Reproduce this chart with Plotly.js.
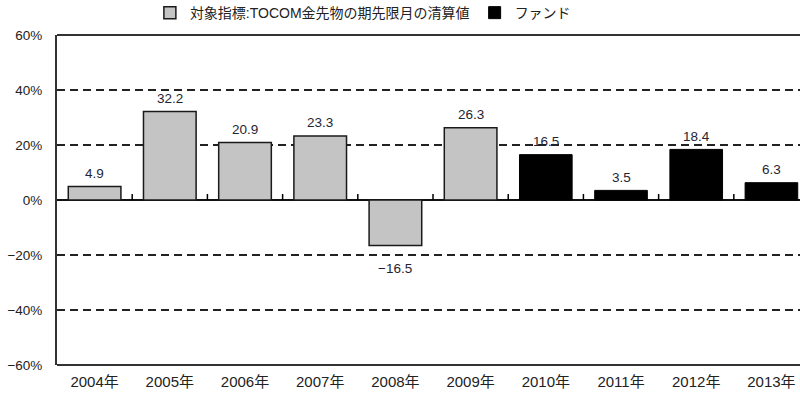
<!DOCTYPE html>
<html>
<head>
<meta charset="utf-8">
<script src="https://cdn.plot.ly/plotly-3.0.1.min.js"></script>
<style>html,body{margin:0;padding:0;background:#fff;}#chart{width:800px;height:405px;}</style>
</head>
<body>
<div id="chart"></div>
<script>
const years = ["2004年","2005年","2006年","2007年","2008年","2009年","2010年","2011年","2012年","2013年"];
const indexYears = ["2004年","2005年","2006年","2007年","2008年","2009年"];
const indexValues = [4.9, 32.2, 20.9, 23.3, -16.5, 26.3];
const fundYears = ["2010年","2011年","2012年","2013年"];
const fundValues = [16.5, 3.5, 18.4, 6.3];
const indexName = "対象指標:TOCOM金先物の期先限月の清算値";
const fundName = "ファンド";
const yTicks = [-60, -40, -20, 0, 20, 40, 60];

const FONT = "Arial, 'Liberation Sans', 'Noto Sans CJK JP', sans-serif";
const fmt = v => (v < 0 ? "\u2212" : "") + Math.abs(v).toFixed(1);

const traces = [
  {
    type: "bar", name: indexName, x: indexYears, y: indexValues,
    marker: {color: "#c4c4c4", line: {color: "#1a1a1a", width: 1.5}},
    hoverinfo: "skip"
  },
  {
    type: "bar", name: fundName, x: fundYears, y: fundValues,
    marker: {color: "#000000", line: {color: "#000000", width: 1}},
    hoverinfo: "skip"
  }
];

const allX = indexYears.concat(fundYears);
const allY = indexValues.concat(fundValues);
const annotations = allX.map((x, i) => ({
  x: x, y: allY[i], xref: "x", yref: "y",
  text: fmt(allY[i]), showarrow: false,
  yanchor: "middle", yshift: allY[i] < 0 ? -23 : 13,
  font: {family: FONT, size: 13.5, color: "#1f2533"}
}));

const xRange = [-0.5, 9.38];
const yRange = [yTicks[0], yTicks[yTicks.length - 1]];
const plotH = 405 - 35 - 40;

// small tick marks on the zero line at the boundaries between categories
const zeroFrac = (0 - yRange[0]) / (yRange[1] - yRange[0]);
const tickShapes = years.slice(1).map((_, i) => {
  const fx = (i + 0.5 - xRange[0]) / (xRange[1] - xRange[0]);
  return {
    type: "line", xref: "paper", yref: "paper", layer: "above",
    x0: fx, x1: fx, y0: zeroFrac, y1: zeroFrac + 6 / plotH,
    line: {color: "#000", width: 1.5}
  };
});

const layout = {
  width: 800, height: 405,
  margin: {l: 57, r: 0, t: 35, b: 40, autoexpand: false},
  paper_bgcolor: "#ffffff", plot_bgcolor: "#ffffff",
  font: {family: FONT, size: 13.5, color: "#222"},
  barmode: "overlay", bargap: 0.3,
  showlegend: true,
  legend: {orientation: "h", x: 0.125, xanchor: "left", y: 1.115, yanchor: "top",
           bgcolor: "rgba(0,0,0,0)",
           font: {family: FONT, size: 14, color: "#222"}, itemwidth: 30, traceorder: "normal"},
  xaxis: {
    type: "category", categoryorder: "array", categoryarray: years,
    range: xRange,
    showline: false, ticks: "", showgrid: false, zeroline: false,
    ticklabelstandoff: 6,
    tickfont: {family: FONT, size: 15, color: "#222"}
  },
  yaxis: {
    range: yRange, tickvals: yTicks, ticktext: yTicks.map(v => (v < 0 ? "\u2212" + Math.abs(v) : v) + "%"),
    showline: true, linecolor: "#333", linewidth: 2,
    ticks: "", showgrid: true, gridcolor: "#222", gridwidth: 2, griddash: "8px,5px",
    zeroline: true, zerolinecolor: "#111", zerolinewidth: 2,
    ticklabelstandoff: 10,
    tickfont: {family: FONT, size: 13.5, color: "#222"}
  },
  annotations: annotations,
  shapes: [
    {type: "line", xref: "paper", yref: "paper", x0: 0, x1: 1, y0: 1, y1: 1, line: {color: "#333", width: 2}},
    {type: "line", xref: "paper", yref: "paper", x0: 0, x1: 1, y0: 0, y1: 0, line: {color: "#333", width: 2}}
  ].concat(tickShapes)
};

Plotly.newPlot("chart", traces, layout, {displayModeBar: false, staticPlot: true});
</script>
</body>
</html>
